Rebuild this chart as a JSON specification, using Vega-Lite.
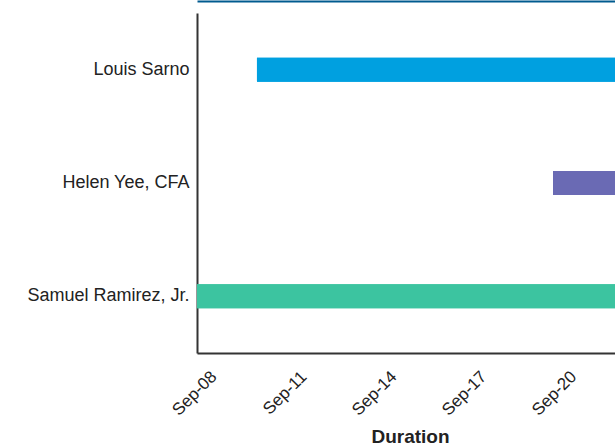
{
  "$schema": "https://vega.github.io/schema/vega-lite/v6.json",
  "autosize": "none",
  "padding": {"left": 197, "top": 13, "right": 0, "bottom": 100},
  "width": 426,
  "height": 340,
  "background": "white",
  "config": {
    "view": {"stroke": null},
    "font": "Liberation Sans"
  },
  "data": {
    "values": [
      {"person": "Louis Sarno", "start": "2020-09-10T00:00:00", "end": "2020-09-25T00:00:00", "color": "#00a0e0"},
      {"person": "Helen Yee, CFA", "start": "2020-09-19T21:00:00", "end": "2020-09-25T00:00:00", "color": "#6a6ab4"},
      {"person": "Samuel Ramirez, Jr.", "start": "2020-09-08T00:00:00", "end": "2020-09-25T00:00:00", "color": "#3cc4a0"}
    ]
  },
  "resolve": {"axis": {"x": "independent"}},
  "layer": [
    {
      "mark": {"type": "bar", "height": 24, "clip": true},
      "encoding": {
        "y": {
          "field": "person",
          "type": "nominal",
          "sort": null,
          "scale": {"paddingInner": 0, "paddingOuter": 0},
          "axis": {
            "title": null,
            "ticks": false,
            "labelFontSize": 18,
            "labelColor": "#222222",
            "labelPadding": 8,
            "domainColor": "#333333",
            "domainWidth": 2,
            "grid": false
          }
        },
        "x": {
          "field": "start",
          "type": "temporal",
          "scale": {"domain": [{"year": 2020, "month": 9, "date": 8}, {"year": 2020, "month": 9, "date": 22, "hours": 5}]},
          "axis": {
            "title": "Duration",
            "titleFontSize": 19,
            "titleFontWeight": "bold",
            "titleColor": "#222222",
            "titlePadding": 9,
            "format": "%b-%d",
            "values": [
              {"year": 2020, "month": 9, "date": 8},
              {"year": 2020, "month": 9, "date": 11},
              {"year": 2020, "month": 9, "date": 14},
              {"year": 2020, "month": 9, "date": 17},
              {"year": 2020, "month": 9, "date": 20}
            ],
            "labelAngle": -45,
            "labelFontSize": 17,
            "labelColor": "#222222",
            "labelPadding": 15,
            "labelOffset": 11,
            "ticks": false,
            "grid": false,
            "domainColor": "#333333",
            "domainWidth": 2
          }
        },
        "x2": {"field": "end"},
        "color": {"field": "color", "type": "nominal", "scale": null, "legend": null}
      }
    },
    {
      "mark": {"type": "bar", "height": 24, "clip": true},
      "encoding": {
        "y": {"field": "person", "type": "nominal", "sort": null},
        "x": {
          "field": "start",
          "type": "temporal",
          "axis": {
            "orient": "top",
            "title": null,
            "labels": false,
            "ticks": false,
            "grid": false,
            "offset": 12,
            "domainColor": "#005b8f",
            "domainWidth": 2
          }
        },
        "x2": {"field": "end"},
        "color": {"field": "color", "type": "nominal", "scale": null, "legend": null}
      }
    }
  ]
}
